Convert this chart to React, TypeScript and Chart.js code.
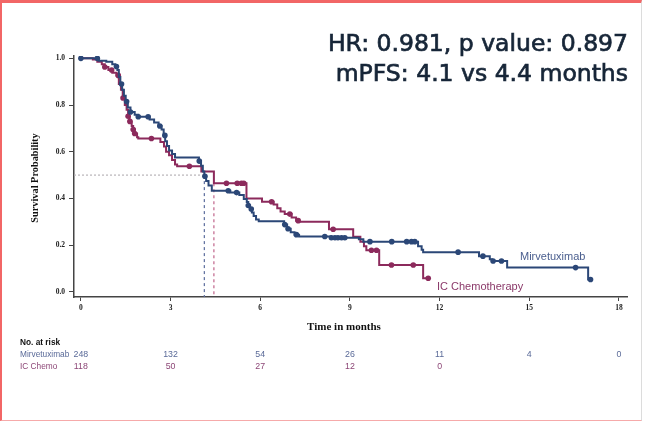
import React, { useEffect, useRef } from 'react';
import { Chart, registerables } from 'chart.js';
Chart.register(...registerables);

// Kaplan-Meier step data (time in months, survival probability after the step)
const mirvTimes = [0, 0.6, 0.85, 1.05, 1.15, 1.22, 1.27, 1.32, 1.38, 1.44, 1.5, 1.57, 1.66, 1.8, 1.92, 2.3, 2.45, 2.6, 2.7, 2.77, 2.82, 2.88, 2.95, 3.05, 3.15, 3.95, 4.02, 4.08, 4.13, 4.19, 4.27, 4.38, 5.0, 5.3, 5.45, 5.55, 5.6, 5.66, 5.72, 5.78, 5.86, 5.95, 6.8, 6.9, 7.02, 7.15, 7.3, 8.35, 9.3, 9.45, 11.28, 11.4, 11.45, 13.32, 13.68, 13.75, 14.26, 16.97, 17.05];
const mirvSurv = [1.0, 0.99, 0.985, 0.975, 0.965, 0.95, 0.92, 0.89, 0.865, 0.84, 0.815, 0.79, 0.77, 0.758, 0.75, 0.738, 0.725, 0.71, 0.695, 0.67, 0.645, 0.625, 0.605, 0.59, 0.575, 0.56, 0.54, 0.515, 0.495, 0.475, 0.455, 0.433, 0.425, 0.415, 0.398, 0.385, 0.37, 0.355, 0.34, 0.325, 0.31, 0.302, 0.288, 0.27, 0.255, 0.245, 0.237, 0.232, 0.225, 0.215, 0.195, 0.18, 0.17, 0.153, 0.14, 0.132, 0.104, 0.053, 0.053];
const chemoTimes = [0, 0.4, 0.55, 0.7, 0.8, 0.92, 1.05, 1.19, 1.27, 1.34, 1.4, 1.47, 1.53, 1.58, 1.63, 1.7, 1.75, 1.8, 1.88, 1.92, 2.66, 2.78, 2.85, 2.95, 3.05, 3.15, 3.22, 4.03, 4.45, 5.54, 6.06, 6.45, 6.57, 6.68, 6.82, 7.05, 7.2, 7.3, 8.3, 9.11, 9.35, 9.47, 9.55, 9.98, 11.45, 11.62];
const chemoSurv = [1.0, 0.995, 0.985, 0.975, 0.963, 0.95, 0.938, 0.927, 0.89, 0.865, 0.83, 0.8, 0.78, 0.752, 0.73, 0.71, 0.695, 0.678, 0.662, 0.657, 0.642, 0.622, 0.6, 0.585, 0.565, 0.545, 0.538, 0.515, 0.465, 0.4, 0.386, 0.374, 0.358, 0.344, 0.333, 0.318, 0.305, 0.3, 0.268, 0.236, 0.215, 0.195, 0.178, 0.115, 0.058, 0.058];

// censoring times
const mirvCensor = [0, 0.55, 1.19, 1.36, 1.53, 1.66, 1.92, 2.25, 2.64, 2.81, 3.96, 4.15, 4.93, 5.21, 5.6, 5.7, 6.82, 6.93, 7.21, 8.16, 8.38, 8.5, 8.6, 8.72, 8.83, 9.67, 10.4, 10.9, 11.06, 11.17, 12.62, 13.45, 13.79, 14.07, 16.55, 17.05];
const chemoCensor = [0.8, 1.03, 1.25, 1.41, 1.58, 1.64, 1.75, 1.8, 2.36, 3.63, 4.87, 5.23, 5.37, 5.45, 6.38, 6.99, 7.27, 8.44, 9.72, 9.89, 10.39, 11.12, 11.62];

// axes & risk table
const xTicks = [0, 3, 6, 9, 12, 15, 18];
const yTicks = [0, 0.2, 0.4, 0.6, 0.8, 1.0];
const riskTimes = [0, 3, 6, 9, 12, 15, 18];
const mirvRisk = ['248', '132', '54', '26', '11', '4', '0'];
const chemoRisk = ['118', '50', '27', '12', '0'];

const titleLines = ['HR: 0.981, p value: 0.897', 'mPFS: 4.1 vs 4.4 months'];

const BLUE = '#2b4777';
const RED = '#8c2a5c';

function stepAt(times: number[], surv: number[], t: number) {
  let v = surv[0];
  for (let i = 0; i < times.length; i++) if (times[i] <= t + 1e-9) v = surv[i];
  return v;
}
function median(times: number[], surv: number[]) {
  for (let i = 0; i < times.length; i++) if (surv[i] <= 0.5) return times[i];
  return NaN;
}

const X_MIN = -0.23, X_MAX = 18.27, Y_MIN = -0.022, Y_MAX = 1.01;

export default function App() {
  const ref = useRef<HTMLCanvasElement | null>(null);
  useEffect(() => {
    if (!ref.current) return;
    const mM = median(mirvTimes, mirvSurv);
    const mC = median(chemoTimes, chemoSurv);
    const sC = stepAt(chemoTimes, chemoSurv, mC);

    const textPlugin = {
      id: 'texts',
      afterDraw(chart: any) {
        const ctx = chart.ctx as CanvasRenderingContext2D;
        const xs = chart.scales.x;
        ctx.save();
        // title
        ctx.fillStyle = '#172638';
        ctx.strokeStyle = '#172638';
        ctx.lineWidth = 0.7;
        ctx.font = '23.5px "DejaVu Sans"';
        ctx.textAlign = 'right';
        ctx.textBaseline = 'alphabetic';
        ctx.fillText(titleLines[0], 628, 51);
        ctx.strokeText(titleLines[0], 628, 51);
        ctx.fillText(titleLines[1], 628, 81);
        ctx.strokeText(titleLines[1], 628, 81);
        // axis titles
        ctx.fillStyle = '#111';
        ctx.font = 'bold 11px "Liberation Serif"';
        ctx.textAlign = 'center';
        ctx.textBaseline = 'middle';
        ctx.fillText('Time in months', 344, 327);
        ctx.save();
        ctx.translate(35, 178);
        ctx.rotate(-Math.PI / 2);
        ctx.font = 'bold 10.3px "Liberation Serif"';
        ctx.fillText('Survival Probability', 0, 0);
        ctx.restore();
        // curve labels
        ctx.font = '11px "Liberation Sans"';
        ctx.textAlign = 'left';
        ctx.fillStyle = '#4a5e8e';
        ctx.fillText('Mirvetuximab', 520, 257);
        ctx.fillStyle = '#8b3a6a';
        ctx.fillText('IC Chemotherapy', 437, 287);
        // risk table
        ctx.fillStyle = '#111';
        ctx.font = 'bold 8.3px "Liberation Sans"';
        ctx.fillText('No. at risk', 20, 343);
        ctx.font = '8.3px "Liberation Sans"';
        ctx.fillStyle = '#5a6a98';
        ctx.fillText('Mirvetuximab', 20, 355);
        ctx.fillStyle = '#8c4676';
        ctx.fillText('IC Chemo', 20, 367);
        ctx.textAlign = 'center';
        ctx.font = '8.8px "Liberation Sans"';
        ctx.fillStyle = '#5a6a98';
        mirvRisk.forEach((s, i) => ctx.fillText(s, xs.getPixelForValue(riskTimes[i]), 355));
        ctx.fillStyle = '#8c4676';
        chemoRisk.forEach((s, i) => ctx.fillText(s, xs.getPixelForValue(riskTimes[i]), 367));
        ctx.restore();
      },
    };

    const chart = new Chart(ref.current, {
      type: 'scatter',
      data: {
        datasets: [
          {
            data: mirvCensor.map((t) => ({ x: t, y: stepAt(mirvTimes, mirvSurv, t) })),
            showLine: false,
            pointRadius: 2.8,
            pointBackgroundColor: BLUE,
            pointBorderColor: BLUE,
            pointBorderWidth: 0,
          },
          {
            data: mirvTimes.map((t, i) => ({ x: t, y: mirvSurv[i] })),
            showLine: true,
            stepped: true,
            borderColor: BLUE,
            borderWidth: 2,
            pointRadius: 0,
          },
          {
            data: chemoCensor.map((t) => ({ x: t, y: stepAt(chemoTimes, chemoSurv, t) })),
            showLine: false,
            pointRadius: 2.8,
            pointBackgroundColor: RED,
            pointBorderColor: RED,
            pointBorderWidth: 0,
          },
          {
            data: chemoTimes.map((t, i) => ({ x: t, y: chemoSurv[i] })),
            showLine: true,
            stepped: true,
            borderColor: RED,
            borderWidth: 2,
            pointRadius: 0,
          },
          {
            data: [{ x: X_MIN, y: 0.5 }, { x: mM, y: 0.5 }],
            showLine: true,
            borderColor: '#b8b4b8',
            borderWidth: 1.2,
            borderDash: [2, 2],
            pointRadius: 0,
          },
          {
            data: [{ x: mM, y: 0.5 }, { x: mM, y: Y_MIN }],
            showLine: true,
            borderColor: '#5b6c9c',
            borderWidth: 1.2,
            borderDash: [3, 3],
            pointRadius: 0,
          },
          {
            data: [{ x: mC, y: sC }, { x: mC, y: Y_MIN }],
            showLine: true,
            borderColor: '#c0648a',
            borderWidth: 1.2,
            borderDash: [3, 3],
            pointRadius: 0,
          },
        ],
      },
      options: {
        responsive: false,
        animation: false,
        events: [],
        layout: { padding: { left: 18, top: 56, right: 19, bottom: 85 } },
        plugins: { legend: { display: false }, tooltip: { enabled: false }, title: { display: false } },
        scales: {
          x: {
            type: 'linear',
            min: X_MIN,
            max: X_MAX,
            afterBuildTicks: (s: any) => { s.ticks = xTicks.map((v) => ({ value: v })); },
            afterFit: (s: any) => { s.height = 40; },
            grid: { drawOnChartArea: false, drawTicks: true, tickLength: 4, color: '#444', lineWidth: 1 },
            border: { display: true, color: '#444', width: 1.5 },
            ticks: {
              padding: 3,
              color: '#222',
              font: { family: '"Liberation Serif"', weight: 'bold', size: 7.5 },
              callback: (v: any) => String(v),
            },
          },
          y: {
            type: 'linear',
            min: Y_MIN,
            max: Y_MAX,
            afterBuildTicks: (s: any) => { s.ticks = yTicks.map((v) => ({ value: v })); },
            afterFit: (s: any) => { s.width = 56; },
            grid: { drawOnChartArea: false, drawTicks: true, tickLength: 5, color: '#444', lineWidth: 1 },
            border: { display: true, color: '#444', width: 1.5 },
            ticks: {
              padding: 4,
              color: '#222',
              font: { family: '"Liberation Serif"', weight: 'bold', size: 7.5 },
              callback: (v: any) => Number(v).toFixed(1),
            },
          },
        },
      },
      plugins: [textPlugin],
    } as any);
    return () => chart.destroy();
  }, []);

  return (
    <div style={{ position: 'fixed', left: 0, top: 0, width: 646, height: 422, background: '#fff' }}>
      <canvas ref={ref} width={646} height={422} style={{ position: 'absolute', left: 0, top: 0 }} />
      <div
        style={{
          position: 'absolute', left: 0, top: 0, width: 642, height: 421, boxSizing: 'border-box',
          borderTop: '3px solid #f26666', borderLeft: '2px solid #f26666',
          borderBottom: '1px solid #f6aaaa', borderRight: '1px solid #dcdcdc', pointerEvents: 'none',
        }}
      />
    </div>
  );
}
